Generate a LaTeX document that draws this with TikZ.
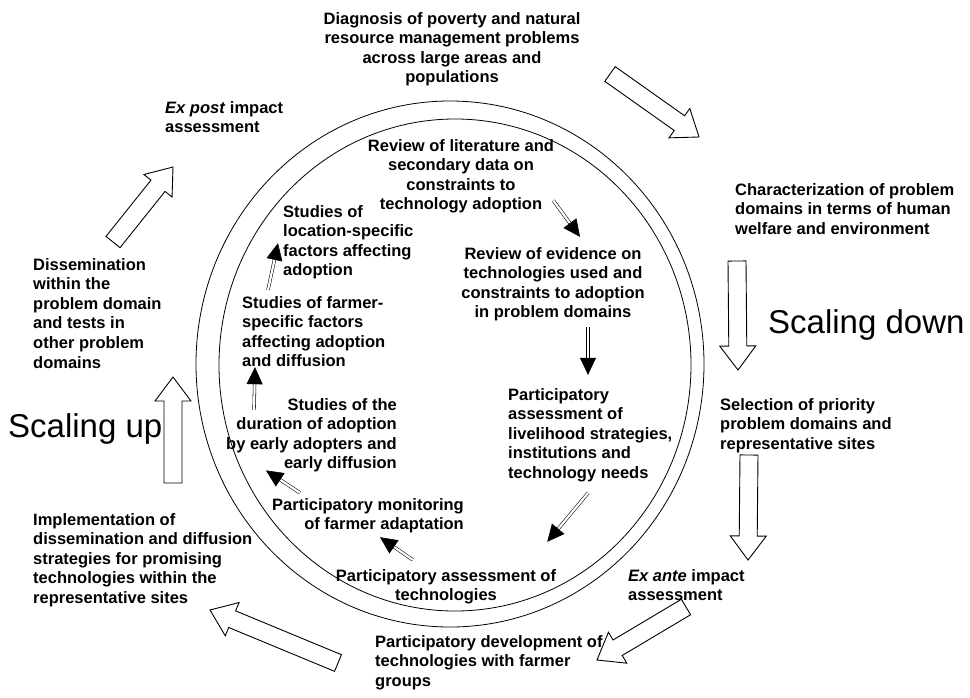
\documentclass[tikz,border=0pt]{standalone}
\usepackage{fontspec}
\setmainfont{Liberation Sans}
\usepackage{tikz}
\usetikzlibrary{arrows.meta,calc}

% hollow block arrow from tail #1 to tip #2
\newcommand{\hollowarrow}[2]{%
  \coordinate (hb) at ($(#2)!24pt!(#1)$);
  \draw[blockarrow] ($(#1)!9pt!90:(#2)$) -- ($(hb)!9pt!-90:(#1)$)
    -- ($(hb)!18pt!-90:(#1)$) -- (#2) -- ($(hb)!18pt!90:(#1)$)
    -- ($(hb)!9pt!90:(#1)$) -- ($(#1)!9pt!-90:(#2)$) -- cycle;}

\tikzset{
  txt/.style={font=\bfseries\fontsize{16.5}{19.6}\selectfont,inner sep=0pt,align=left},
  big/.style={font=\fontsize{33}{40}\selectfont,inner sep=0pt},
  ring/.style={line width=0.8pt},
  blockarrow/.style={line width=0.9pt,line join=miter},
  flow/.style={double,double distance=2.2pt,line width=0.55pt,-{Triangle[length=17pt,width=16pt]}}
}

\begin{document}
\begin{tikzpicture}[x=1pt,y=-1pt]
\useasboundingbox (0,0) rectangle (970,697);

\draw[ring] (450,364) ellipse [x radius=254pt,y radius=263pt];
\draw[ring] (455,365) ellipse [x radius=236pt,y radius=246pt];

% outer cycle (base = last line)
\node[txt,align=center,anchor=base] (diag) at (452,82.8) {Diagnosis of poverty and natural\\resource management problems\\across large areas and\\populations};
\node[txt,anchor=base west] (char) at (735,234.2) {Characterization of problem\\domains in terms of human\\welfare and environment};
\node[txt,anchor=base west] (sel) at (720,449.2) {Selection of priority\\problem domains and\\representative sites};
\node[txt,anchor=base west] (ante) at (628,600.6) {\textit{Ex ante} impact\\assessment};
\node[txt,anchor=base west] (devel) at (375,686.2) {Participatory development of\\technologies with farmer\\groups};
\node[txt,anchor=base west] (impl) at (33,603.4) {Implementation of\\dissemination and diffusion\\strategies for promising\\technologies within the\\representative sites};
\node[txt,anchor=base west] (dissem) at (33,368) {Dissemination\\within the\\problem domain\\and tests in\\other problem\\domains};
\node[txt,anchor=base west] (post) at (165,132.6) {\textit{Ex post} impact\\assessment};
\node[big,anchor=base west] (scup) at (8,437) {Scaling up};
\node[big,anchor=base west] (scdown) at (768,333) {Scaling down};

\coordinate (diagout) at (610,74);   \coordinate (charin) at (699,137);
\coordinate (charout) at (737,261);  \coordinate (selin) at (738,370);
\coordinate (selout) at (749,455);   \coordinate (antein) at (748,560);
\coordinate (anteout) at (686,607);  \coordinate (develin) at (597,660);
\coordinate (develout) at (338,663); \coordinate (implin) at (210,610);
\coordinate (implout) at (173,483);  \coordinate (dissin) at (173,377);
\coordinate (dissout) at (113,242);  \coordinate (postin) at (173,167);
\foreach \a/\b in {diagout/charin,charout/selin,selout/antein,anteout/develin,
                   develout/implin,implout/dissin,dissout/postin}{
  \hollowarrow{\a}{\b}
}

% inner cycle
\node[txt,align=center,anchor=base] (lit) at (461,209.8) {Review of literature and\\secondary data on\\constraints to\\technology adoption};
\node[txt,align=center,anchor=base] (evid) at (553,317.8) {Review of evidence on\\technologies used and\\constraints to adoption\\in problem domains};
\node[txt,anchor=base west] (livel) at (508,478.4) {Participatory\\assessment of\\livelihood strategies,\\institutions and\\technology needs};
\node[txt,align=center,anchor=base] (assess) at (446,600.6) {Participatory assessment of\\technologies};
\node[txt,align=right,anchor=base east] (monit) at (464,529.6) {Participatory monitoring\\of farmer adaptation};
\node[txt,align=right,anchor=base east] (durat) at (397,468.8) {Studies of the\\duration of adoption\\by early adopters and\\early diffusion};
\node[txt,anchor=base west] (farmer) at (242,366.8) {Studies of farmer-\\specific factors\\affecting adoption\\and diffusion};
\node[txt,anchor=base west] (locat) at (283,275.8) {Studies of\\location-specific\\factors affecting\\adoption};

\draw[flow] ([shift={(-1,-13)}]lit.south east) -- ([shift={(27,-10)}]evid.north);
\draw[flow] ([shift={(35,6)}]evid.south) -- ([shift={(80,-13)}]livel.north west);
\draw[flow] ([shift={(80,11)}]livel.south west) -- ([shift={(-9,-27)}]assess.north east);
\draw[flow] ([shift={(77,-9)}]assess.north west) -- ([shift={(-84,4)}]monit.south east);
\draw[flow] ([shift={(28,-5)}]monit.north west) -- ([shift={(40,-2)}]durat.south west);
\draw[flow] ([shift={(28,12)}]durat.north west) -- ([shift={(13,0)}]farmer.south west);
\draw[flow] ([shift={(26,-6)}]farmer.north west) -- ([shift={(-5,1)}]locat.west);
\end{tikzpicture}
\end{document}
